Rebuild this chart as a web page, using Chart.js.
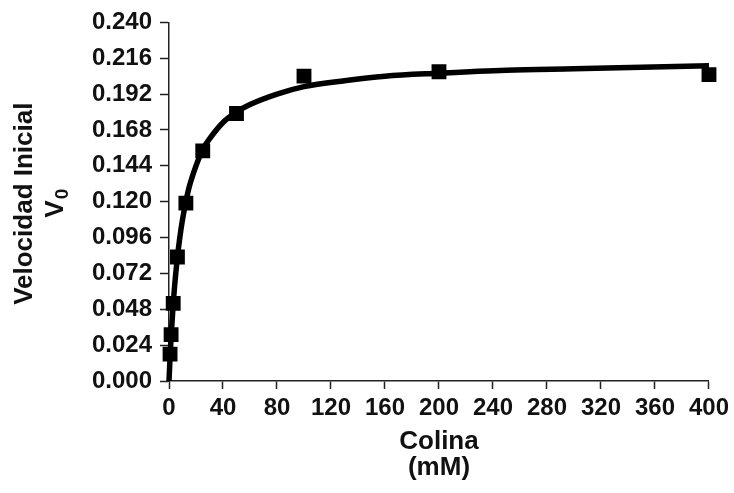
<!DOCTYPE html>
<html>
<head>
<meta charset="utf-8">
<script src="https://cdn.jsdelivr.net/npm/chart.js@4.4.1/dist/chart.umd.min.js"></script>
<style>
  html, body { margin: 0; padding: 0; background: #fff; }
  #wrap { width: 734px; height: 493px; }
</style>
</head>
<body>
<div id="wrap"><canvas id="kinetics"></canvas></div>
<script>
// measured initial rates (substrate series halves from 400 mM)
const colina = [0.78, 1.56, 3.125, 6.25, 12.5, 25, 50, 100, 200, 400]
const v0 = [0.018, 0.031, 0.052, 0.083, 0.119, 0.154, 0.179, 0.204, 0.207, 0.205]

// fitted saturation curve, sampled along its length
const curveX = [0, 0.5, 1, 2, 3, 4, 5, 6, 8, 10, 12.5, 15, 20, 25, 30, 40, 50, 60, 80, 100, 130, 160, 200, 250, 300, 350, 400]
const curveY = [0, 0.010, 0.020, 0.036, 0.050, 0.062, 0.072, 0.081, 0.096, 0.108, 0.120, 0.130, 0.144, 0.155, 0.162, 0.173, 0.180, 0.185, 0.192, 0.197, 0.201, 0.204, 0.206, 0.208, 0.209, 0.210, 0.211]

const xTicks = [0, 40, 80, 120, 160, 200, 240, 280, 320, 360, 400]
const yTicks = [0, 0.024, 0.048, 0.072, 0.096, 0.120, 0.144, 0.168, 0.192, 0.216, 0.240]

const FONT = "'Liberation Sans', Arial, sans-serif"
const INK = "#111"

// rotated two-line y title with a real subscript on V0
const yTitle = {
    id: "yTitle",
    afterDraw(chart){
        const ctx = chart.ctx
        const area = chart.chartArea
        const cy = (area.top + area.bottom) / 2
        ctx.save()
        ctx.fillStyle = INK
        ctx.textBaseline = "middle"
        ctx.textAlign = "center"
        ctx.translate(25, cy + 2)
        ctx.rotate(-Math.PI / 2)
        ctx.font = "bold 26px " + FONT
        ctx.fillText("Velocidad Inicial", 0, 0)
        // second line: V with subscript 0
        const vW = ctx.measureText("V").width
        ctx.font = "bold 19px " + FONT
        const subW = ctx.measureText("0").width
        const start = -(vW + subW) / 2
        ctx.textAlign = "left"
        ctx.font = "bold 26px " + FONT
        ctx.fillText("V", start, 31)
        ctx.font = "bold 19px " + FONT
        ctx.fillText("0", start + vW + 1, 38)
        ctx.restore()
    }
}

const ctx = document.getElementById("kinetics").getContext("2d")
const chart = new Chart(ctx, {
    type: "scatter",
    data: {
        datasets: [
            {
                label: "ajuste",
                type: "line",
                data: curveX.map((x, i) => ({x: x, y: curveY[i]})),
                borderColor: "#000",
                borderWidth: 5.5,
                pointRadius: 0,
                cubicInterpolationMode: "monotone",
                fill: false,
                clip: 10,
                order: 2
            },
            {
                label: "V0",
                data: colina.map((x, i) => ({x: x, y: v0[i]})),
                pointStyle: "rect",
                pointRadius: 10.5,
                pointBorderWidth: 0,
                backgroundColor: "#000",
                borderColor: "#000",
                clip: 12,
                order: 1
            }
        ]
    },
    options: {
        responsive: true,
        maintainAspectRatio: false,
        animation: false,
        layout: { padding: { top: 20, right: 23, left: 0, bottom: 0 } },
        plugins: {
            legend: { display: false },
            tooltip: { enabled: false }
        },
        scales: {
            x: {
                type: "linear",
                min: 0,
                max: 400,
                afterBuildTicks: s => { s.ticks = xTicks.map(v => ({value: v})) },
                afterFit: s => { s.height = 112 },
                grid: { drawOnChartArea: false, tickLength: 8, tickColor: "#222", tickWidth: 1.5 },
                border: { color: "#222", width: 1.5 },
                ticks: {
                    color: INK,
                    padding: 5,
                    maxRotation: 0,
                    font: { family: FONT, size: 24, weight: "bold" },
                    callback: v => String(v)
                },
                title: {
                    display: true,
                    text: ["Colina", "(mM)"],
                    color: INK,
                    font: { family: FONT, size: 26, weight: "bold", lineHeight: 1.0 },
                    padding: { top: 0, bottom: 12 }
                }
            },
            y: {
                type: "linear",
                min: 0,
                max: 0.24,
                afterBuildTicks: s => { s.ticks = yTicks.map(v => ({value: v})) },
                afterFit: s => { s.width = 169 },
                grid: { drawOnChartArea: false, tickLength: 9, tickColor: "#222", tickWidth: 1.5 },
                border: { color: "#222", width: 1.5 },
                ticks: {
                    color: INK,
                    padding: 8,
                    font: { family: FONT, size: 24, weight: "bold" },
                    callback: v => v.toFixed(3)
                }
            }
        }
    },
    plugins: [yTitle]
})
</script>
</body>
</html>
